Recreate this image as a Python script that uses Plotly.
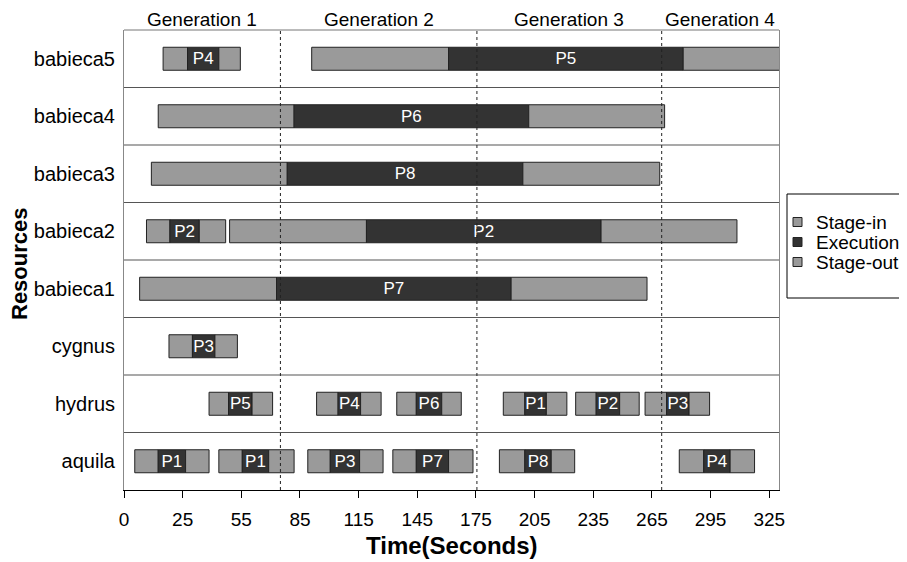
import plotly.graph_objects as go

# ---------------- data ----------------
resources = ["aquila", "hydrus", "cygnus", "babieca1", "babieca2", "babieca3", "babieca4", "babieca5"]

task_resource = ["babieca5", "babieca5",
                 "babieca4",
                 "babieca3",
                 "babieca2", "babieca2",
                 "babieca1",
                 "cygnus",
                 "hydrus", "hydrus", "hydrus", "hydrus", "hydrus", "hydrus",
                 "aquila", "aquila", "aquila", "aquila", "aquila", "aquila"]
task_name = ["P4", "P5",
             "P6",
             "P8",
             "P2", "P2",
             "P7",
             "P3",
             "P5", "P4", "P6", "P1", "P2", "P3",
             "P1", "P1", "P3", "P7", "P8", "P4"]
stagein_start = [15, 91, 12.5, 9, 6.5, 49, 3, 18,
                 38.5, 93.5, 134.5, 189, 226, 261.5,
                 0.5, 43.5, 89, 132.5, 187, 279]
exec_start = [27.5, 161, 82, 78.5, 18.5, 119, 73, 30,
              48.5, 104.5, 144.5, 200, 236.5, 272.5,
              12.5, 55.5, 100.5, 144.5, 200, 291.5]
exec_end = [43.5, 281, 202, 199, 33.5, 239, 193, 41.5,
            60.5, 116, 157.5, 211, 248.5, 284,
            26.5, 69, 115.5, 161, 213.5, 305]
stageout_end = [54.5, 335, 271.5, 269, 47, 308.5, 262.5, 53,
                71, 126.5, 167.5, 221.5, 258.5, 294.5,
                38.5, 82, 127.5, 173.5, 225.5, 317.5]

legend_names = ["Stage-in", "Execution", "Stage-out"]

generation_labels = ["Generation 1", "Generation 2", "Generation 3", "Generation 4"]
generation_bounds = [75, 175.5, 270]

x_min, x_max = -5, 330
tick_vals = [-5, 25, 55, 85, 115, 145, 175, 205, 235, 265, 295, 325]
tick_text = ["0", "25", "55", "85", "115", "145", "175", "205", "235", "265", "295", "325"]

# ---------------- styles ----------------
GRAY = "#9a9a9a"
DARK = "#333333"
EDGE = "#222222"
FONT = "Liberation Sans, Arial, sans-serif"
BAR_W = 0.4
legend_colors = [GRAY, DARK, GRAY]

# the page body adds an 8px offset; the figure fills the rest of the 907x562 window
FIG_W, FIG_H = 899, 554
PL, PR, PT, PB = 116, 128, 22, 72
PW, PH = FIG_W - PL - PR, FIG_H - PT - PB


def px_x(px):  # window pixel -> paper x
    return (px - 8 - PL) / PW


def px_y(py):  # window pixel -> paper y
    return (FIG_H - PB - (py - 8)) / PH


fig = go.Figure()

fig.add_trace(go.Bar(
    name=legend_names[0], orientation="h", y=task_resource,
    base=stagein_start,
    x=[e - s for s, e in zip(stagein_start, exec_start)],
    width=BAR_W, marker=dict(color=legend_colors[0], line=dict(color=EDGE, width=1)),
))
fig.add_trace(go.Bar(
    name=legend_names[1], orientation="h", y=task_resource,
    base=exec_start,
    x=[e - s for s, e in zip(exec_start, exec_end)],
    width=BAR_W, marker=dict(color=legend_colors[1], line=dict(color=EDGE, width=1)),
    text=task_name, textposition="inside", insidetextanchor="middle", textangle=0,
    textfont=dict(color="white", size=17, family=FONT),
))
fig.add_trace(go.Bar(
    name=legend_names[2], orientation="h", y=task_resource,
    base=exec_end,
    x=[e - s for s, e in zip(exec_end, stageout_end)],
    width=BAR_W, marker=dict(color=legend_colors[2], line=dict(color=EDGE, width=1)),
))

shapes = []
# row separators
for k in range(len(resources) - 1):
    shapes.append(dict(type="line", xref="paper", x0=0, x1=1, yref="y",
                       y0=k + 0.5, y1=k + 0.5, line=dict(color="#555555", width=1.2)))
# generation boundaries
for b in generation_bounds:
    shapes.append(dict(type="line", xref="x", x0=b, x1=b, yref="paper", y0=0, y1=1,
                       line=dict(color="#222222", width=1, dash="3px,3px")))
# top border
shapes.append(dict(type="line", xref="paper", x0=0, x1=1, yref="paper", y0=1, y1=1,
                   line=dict(color="#777777", width=1)))

annotations = []
edges = [x_min] + generation_bounds + [x_max]
for i, lab in enumerate(generation_labels):
    annotations.append(dict(text=lab, x=(edges[i] + edges[i + 1]) / 2, xref="x",
                            y=px_y(20), yref="paper", yanchor="middle", showarrow=False,
                            font=dict(size=19, color="black", family=FONT)))
annotations.append(dict(text="<b>Resources</b>", textangle=-90, x=px_x(20), xref="paper",
                        y=px_y(264), yref="paper", xanchor="center", yanchor="middle",
                        showarrow=False, font=dict(size=22, color="black", family=FONT)))
annotations.append(dict(text="<b>Time(Seconds)</b>", x=0.5, xref="paper",
                        y=px_y(545), yref="paper", xanchor="center", yanchor="middle",
                        showarrow=False, font=dict(size=24, color="black", family=FONT)))

# legend box (drawn to match the original, which runs off the right edge)
shapes.append(dict(type="rect", xref="paper", yref="paper",
                   x0=px_x(787), x1=px_x(930), y0=px_y(298), y1=px_y(194),
                   line=dict(color="black", width=1), fillcolor="white", layer="above"))
for i, (name, col) in enumerate(zip(legend_names, legend_colors)):
    cy = 222 + 20 * i
    shapes.append(dict(type="rect", xref="paper", yref="paper",
                       x0=px_x(793), x1=px_x(802), y0=px_y(cy + 4.5), y1=px_y(cy - 4.5),
                       line=dict(color=EDGE, width=1), fillcolor=col, layer="above"))
    annotations.append(dict(text=name, x=px_x(814), xref="paper", xanchor="left",
                            y=px_y(cy), yref="paper", yanchor="middle", showarrow=False,
                            font=dict(size=19, color="black", family=FONT)))

fig.update_layout(
    width=FIG_W, height=FIG_H,
    margin=dict(l=PL, r=PR, t=PT, b=PB, autoexpand=False),
    paper_bgcolor="white", plot_bgcolor="white",
    barmode="overlay",
    showlegend=False,
    uniformtext=dict(minsize=17, mode="show"),
    shapes=shapes, annotations=annotations,
    font=dict(family=FONT, color="black"),
)
fig.update_xaxes(range=[x_min, x_max], tickvals=tick_vals, ticktext=tick_text,
                 automargin=False,
                 showgrid=False, zeroline=False, showline=True, linecolor="black",
                 linewidth=1, mirror=False, ticks="outside", ticklen=7, tickcolor="black",
                 ticklabelstandoff=5, tickfont=dict(size=19, color="black", family=FONT))
fig.update_yaxes(type="category", categoryorder="array", categoryarray=resources,
                 automargin=False,
                 range=[-0.5, len(resources) - 0.5], showgrid=False, zeroline=False,
                 showline=True, linecolor="#888888", mirror=True, ticks="",
                 ticklabelstandoff=4, tickfont=dict(size=20, color="black", family=FONT))

fig.write_html("out.html")
